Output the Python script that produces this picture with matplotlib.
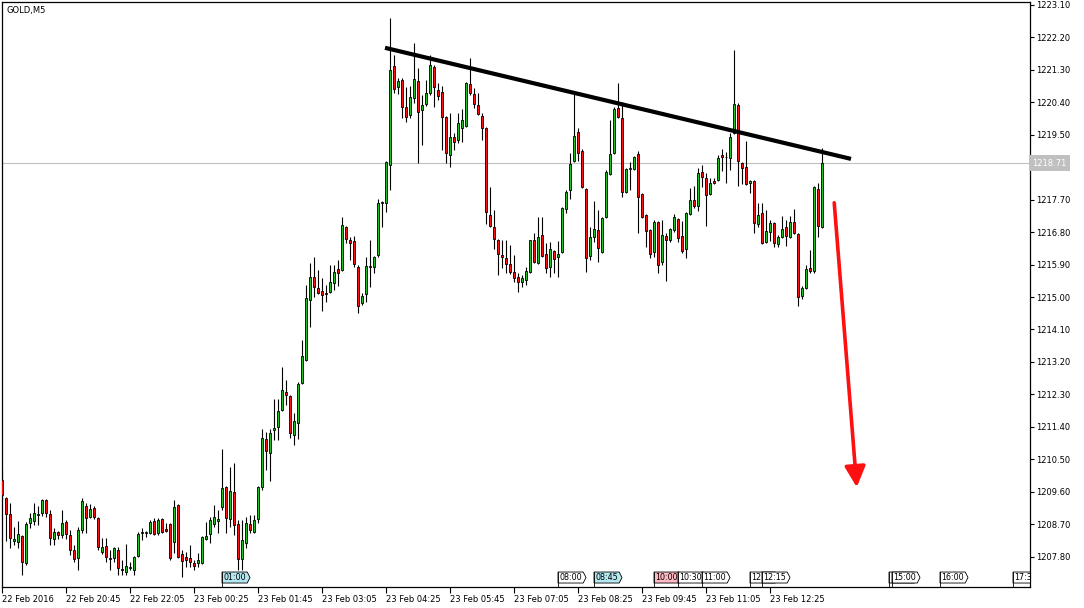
import numpy as np
import matplotlib
matplotlib.use("Agg")
import matplotlib.pyplot as plt
from matplotlib.patches import Polygon
from matplotlib.transforms import blended_transform_factory

# GOLD M5 candles, one per bar
opens = [
    1209.93, 1209.43, 1208.99, 1208.24, 1208.21, 1208.37, 1207.63, 1208.74, 1208.79, 1208.96,
    1209.01, 1209.37, 1208.99, 1208.29, 1208.49, 1208.40, 1208.76, 1208.40, 1207.99, 1207.76,
    1208.54, 1209.21, 1208.90, 1209.15, 1208.87, 1207.93, 1208.10, 1207.76, 1207.76, 1207.99,
    1207.46, 1207.38, 1207.49, 1207.43, 1207.82, 1208.46, 1208.47, 1208.46, 1208.79, 1208.46,
    1208.85, 1208.57, 1208.71, 1208.21, 1209.24, 1207.88, 1207.79, 1207.76, 1207.63, 1207.63,
    1207.63, 1208.29, 1208.43, 1208.71, 1208.79, 1209.18, 1209.73, 1208.85, 1209.60, 1208.71,
    1207.74, 1208.18, 1208.71, 1208.49, 1208.85, 1209.73, 1211.06, 1210.68, 1211.31, 1211.40,
    1211.87, 1212.37, 1212.26, 1211.18, 1211.51, 1212.62, 1213.26, 1214.92, 1215.56, 1215.25,
    1215.17, 1215.11, 1215.14, 1215.39, 1215.78, 1215.75, 1216.94, 1216.58, 1216.56, 1215.84,
    1214.84, 1215.09, 1215.86, 1215.84, 1216.17, 1217.61, 1217.61, 1218.66, 1221.41, 1220.83,
    1221.02, 1220.27, 1220.05, 1220.52, 1220.99, 1220.19, 1220.35, 1220.66, 1221.38, 1220.74,
    1220.69, 1219.99, 1218.94, 1219.44, 1219.36, 1219.69, 1219.75, 1220.91, 1220.63, 1220.33,
    1220.02, 1219.69, 1217.28, 1216.94, 1216.58, 1216.17, 1216.08, 1215.92, 1215.70, 1215.56,
    1215.42, 1215.47, 1215.70, 1216.58, 1215.95, 1216.72, 1216.20, 1215.84, 1216.28, 1216.11,
    1216.25, 1217.44, 1217.97, 1218.77, 1219.58, 1219.05, 1218.00, 1216.14, 1216.67, 1216.86,
    1216.25, 1217.22, 1218.41, 1218.99, 1220.24, 1219.97, 1217.92, 1218.56, 1218.55, 1218.97,
    1217.86, 1217.28, 1216.86, 1216.25, 1217.08, 1215.97, 1216.69, 1216.58, 1216.86, 1217.17,
    1216.69, 1216.33, 1217.30, 1217.69, 1217.53, 1218.47, 1218.30, 1217.86, 1218.22, 1218.25,
    1218.94, 1218.87, 1218.86, 1219.55, 1220.33, 1218.72, 1218.61, 1218.16, 1218.22, 1217.03,
    1217.33, 1216.53, 1216.81, 1217.05, 1216.47, 1216.67, 1216.94, 1216.67, 1217.08, 1216.75,
    1215.03, 1215.25, 1215.81, 1215.72, 1218.00, 1216.94,
]
highs = [
    1210.21, 1209.46, 1209.29, 1208.62, 1208.79, 1208.40, 1208.76, 1209.01, 1209.29, 1209.21,
    1209.40, 1209.40, 1209.10, 1208.60, 1208.52, 1209.10, 1208.82, 1208.54, 1208.13, 1208.62,
    1209.43, 1209.29, 1209.26, 1209.21, 1208.90, 1208.32, 1208.32, 1207.99, 1208.07, 1208.07,
    1207.71, 1208.15, 1207.65, 1207.82, 1208.49, 1208.60, 1208.52, 1208.82, 1208.87, 1208.87,
    1208.87, 1208.74, 1208.74, 1209.37, 1209.26, 1207.99, 1207.93, 1208.13, 1207.71, 1207.90,
    1208.38, 1208.76, 1208.90, 1209.24, 1209.10, 1210.79, 1209.76, 1210.29, 1210.40, 1208.82,
    1208.82, 1208.90, 1208.96, 1208.96, 1209.76, 1211.34, 1211.26, 1211.34, 1212.17, 1212.17,
    1213.06, 1212.70, 1212.29, 1211.79, 1212.65, 1213.81, 1215.34, 1215.95, 1216.11, 1215.75,
    1215.53, 1215.34, 1215.89, 1215.89, 1216.03, 1217.22, 1216.97, 1216.67, 1216.69, 1215.89,
    1215.11, 1216.11, 1216.58, 1216.14, 1217.72, 1217.66, 1218.78, 1222.74, 1221.71, 1221.08,
    1221.08, 1220.83, 1220.85, 1222.05, 1221.35, 1220.60, 1221.02, 1221.71, 1221.44, 1220.94,
    1220.85, 1220.02, 1220.10, 1219.55, 1220.10, 1220.22, 1220.97, 1221.63, 1220.80, 1220.66,
    1220.10, 1219.72, 1218.05, 1217.42, 1216.61, 1216.58, 1216.58, 1216.44, 1216.17, 1215.67,
    1215.61, 1215.84, 1216.58, 1216.78, 1217.22, 1217.22, 1216.50, 1216.53, 1216.31, 1216.56,
    1217.50, 1217.97, 1218.99, 1220.66, 1219.69, 1219.11, 1218.02, 1216.94, 1217.66, 1217.42,
    1217.22, 1218.53, 1219.91, 1220.27, 1220.94, 1220.41, 1218.58, 1218.75, 1218.91, 1219.05,
    1217.89, 1217.31, 1216.89, 1217.14, 1217.11, 1217.14, 1216.78, 1216.92, 1217.30, 1217.19,
    1217.11, 1217.36, 1218.02, 1218.08, 1218.58, 1218.66, 1218.44, 1218.30, 1218.30, 1218.94,
    1219.11, 1219.02, 1219.55, 1221.85, 1220.38, 1218.75, 1219.33, 1218.25, 1218.25, 1217.61,
    1217.61, 1217.42, 1217.14, 1217.08, 1216.72, 1217.25, 1217.14, 1217.25, 1217.44, 1216.78,
    1215.31, 1215.89, 1216.31, 1218.08, 1218.16, 1219.13,
]
lows = [
    1209.37, 1208.24, 1208.04, 1208.13, 1208.04, 1207.29, 1207.57, 1208.60, 1208.68, 1208.68,
    1208.93, 1208.90, 1208.13, 1208.13, 1208.29, 1208.32, 1208.29, 1207.85, 1207.65, 1207.43,
    1208.46, 1208.46, 1208.87, 1208.85, 1207.99, 1207.88, 1207.65, 1207.43, 1207.65, 1207.29,
    1207.29, 1207.29, 1207.43, 1207.29, 1207.79, 1208.26, 1208.35, 1208.43, 1208.40, 1208.40,
    1208.46, 1208.49, 1207.71, 1207.90, 1207.76, 1207.24, 1207.52, 1207.52, 1207.43, 1207.52,
    1207.60, 1208.26, 1208.18, 1208.62, 1208.46, 1209.10, 1208.46, 1208.62, 1208.40, 1207.43,
    1207.43, 1208.04, 1208.46, 1208.46, 1208.74, 1209.65, 1210.21, 1209.90, 1211.04, 1211.04,
    1211.84, 1212.01, 1211.09, 1210.90, 1211.06, 1212.59, 1213.23, 1214.17, 1215.00, 1215.09,
    1214.61, 1214.86, 1215.11, 1215.20, 1215.31, 1215.72, 1216.50, 1216.03, 1215.84, 1214.56,
    1214.78, 1214.86, 1215.28, 1215.67, 1216.11, 1216.94, 1217.36, 1217.97, 1220.66, 1220.63,
    1219.97, 1219.86, 1219.97, 1220.38, 1218.72, 1219.22, 1220.30, 1220.60, 1220.27, 1220.47,
    1219.08, 1218.72, 1218.61, 1219.08, 1219.27, 1219.30, 1219.72, 1220.60, 1220.24, 1220.05,
    1219.36, 1217.03, 1216.94, 1216.33, 1215.61, 1215.81, 1215.67, 1215.64, 1215.42, 1215.14,
    1215.28, 1215.34, 1215.67, 1215.95, 1215.92, 1216.11, 1215.67, 1215.56, 1215.67, 1215.56,
    1216.22, 1217.33, 1217.72, 1218.75, 1218.77, 1218.02, 1215.70, 1216.03, 1216.53, 1215.97,
    1216.22, 1217.19, 1218.39, 1218.97, 1219.97, 1217.78, 1217.89, 1217.97, 1218.53, 1216.78,
    1217.19, 1216.39, 1216.08, 1216.11, 1215.67, 1215.89, 1215.45, 1216.53, 1216.81, 1216.53,
    1216.22, 1216.08, 1217.28, 1217.47, 1217.39, 1218.05, 1216.97, 1217.83, 1218.14, 1218.22,
    1218.50, 1218.16, 1218.53, 1219.52, 1218.08, 1218.14, 1218.11, 1217.89, 1216.78, 1216.94,
    1216.47, 1216.50, 1216.56, 1216.39, 1216.39, 1216.64, 1216.42, 1216.64, 1216.75, 1214.75,
    1214.95, 1215.22, 1215.67, 1215.67, 1216.67, 1216.92,
]
closes = [
    1209.51, 1208.99, 1208.32, 1208.29, 1208.43, 1207.65, 1208.71, 1208.87, 1209.01, 1208.99,
    1209.37, 1209.01, 1208.32, 1208.49, 1208.40, 1208.74, 1208.43, 1207.99, 1207.74, 1208.54,
    1209.35, 1208.87, 1209.12, 1208.90, 1208.07, 1208.07, 1207.79, 1207.74, 1208.04, 1207.49,
    1207.42, 1207.54, 1207.52, 1207.79, 1208.43, 1208.49, 1208.49, 1208.76, 1208.43, 1208.82,
    1208.49, 1208.51, 1207.76, 1209.18, 1207.79, 1207.68, 1207.71, 1207.65, 1207.54, 1207.71,
    1208.35, 1208.37, 1208.82, 1208.90, 1208.85, 1209.71, 1208.87, 1209.62, 1208.68, 1207.74,
    1208.26, 1208.74, 1208.54, 1208.82, 1209.73, 1211.09, 1210.73, 1211.23, 1211.37, 1211.84,
    1212.42, 1212.29, 1211.23, 1211.56, 1212.59, 1213.37, 1214.98, 1215.56, 1215.28, 1215.11,
    1215.06, 1215.09, 1215.42, 1215.70, 1215.67, 1217.00, 1216.61, 1216.50, 1215.92, 1214.75,
    1215.03, 1215.86, 1215.84, 1216.11, 1217.61, 1217.63, 1218.75, 1221.30, 1220.77, 1220.99,
    1220.27, 1219.99, 1220.55, 1221.05, 1220.13, 1220.33, 1220.66, 1221.44, 1220.83, 1220.58,
    1219.99, 1218.99, 1219.44, 1219.30, 1219.83, 1219.91, 1220.94, 1220.66, 1220.35, 1220.08,
    1219.69, 1217.36, 1216.97, 1216.61, 1216.20, 1216.11, 1215.92, 1215.70, 1215.53, 1215.42,
    1215.53, 1215.72, 1216.58, 1215.97, 1216.67, 1216.14, 1215.81, 1216.33, 1216.06, 1216.20,
    1217.47, 1217.92, 1218.69, 1219.47, 1218.99, 1218.05, 1216.08, 1216.67, 1216.89, 1216.36,
    1217.19, 1218.47, 1218.97, 1220.22, 1219.99, 1217.92, 1218.55, 1218.58, 1218.88, 1217.78,
    1217.22, 1216.83, 1216.20, 1217.08, 1215.89, 1216.72, 1216.58, 1216.89, 1217.22, 1216.64,
    1216.28, 1217.33, 1217.69, 1217.53, 1218.44, 1218.33, 1217.83, 1218.16, 1218.16, 1218.86,
    1218.88, 1218.89, 1219.44, 1220.35, 1218.77, 1218.58, 1218.14, 1218.22, 1217.05, 1217.28,
    1216.50, 1216.83, 1217.05, 1216.50, 1216.67, 1216.89, 1216.69, 1217.08, 1216.78, 1215.00,
    1215.25, 1215.78, 1215.72, 1218.05, 1216.97, 1218.71,
]

# time axis: one label every 16 bars
time_tick_bars = [0, 16, 32, 48, 64, 80, 96, 112, 128, 144, 160, 176, 192]
time_labels = ["22 Feb 2016", "22 Feb 20:45", "22 Feb 22:05", "23 Feb 00:25",
               "23 Feb 01:45", "23 Feb 03:05", "23 Feb 04:25", "23 Feb 05:45",
               "23 Feb 07:05", "23 Feb 08:25", "23 Feb 09:45", "23 Feb 11:05",
               "23 Feb 12:25"]
price_ticks = [1207.80, 1208.70, 1209.60, 1210.50, 1211.40, 1212.30, 1213.20,
               1214.10, 1215.00, 1215.90, 1216.80, 1217.70, 1218.60, 1219.50,
               1220.40, 1221.30, 1222.20, 1223.10]

# calendar events at the bottom (bar position, visible label, kind);
# flags that sit under the next one only show their first characters
event_bars = [55, 139, 148, 163, 169, 175, 187, 190, 221.75, 222.5, 234.5, 252.75]
event_labels = ["01:00", "08:00", "08:45", "10:00", "10:30", "11:00", "12",
                "12:15", "", "15:00", "16:00", "17:30"]
event_kind = ["low", "none", "low", "high", "none", "none", "none",
              "none", "none", "none", "none", "none"]

# drawn lines: resistance line and expected move
trend_bars = [95.75, 212.25]
trend_prices = [1221.91, 1218.83]
arrow_bars = [208, 213.75]
arrow_prices = [1217.69, 1209.65]

GREEN = "#22c022"
RED = "#ff1010"
kind_colors = {"low": "#b4e8f0", "high": "#ffb8c4", "none": "white"}

fig = plt.figure(figsize=(10.84, 6.08), dpi=100)
ax = fig.add_axes([2 / 1084, 21 / 608, 1028 / 1084, 585 / 608])

x = np.arange(len(opens))
o = np.array(opens)
c = np.array(closes)
colors = [GREEN if cc > oo else (RED if cc < oo else "black") for oo, cc in zip(o, c)]

ax.vlines(x, lows, highs, color="black", linewidth=0.8, zorder=2)
ax.bar(x, np.abs(c - o), bottom=np.minimum(o, c), width=0.74, color=colors,
       edgecolor="black", linewidth=0.6, zorder=3)

# last price line
last = closes[-1]
ax.axhline(last, color="#c0c0c0", linewidth=0.8, zorder=1)

ax.plot(trend_bars, trend_prices, color="black", linewidth=3, solid_capstyle="butt", zorder=5)
ax.annotate("", xy=(arrow_bars[1], arrow_prices[1]), xytext=(arrow_bars[0], arrow_prices[0]),
            arrowprops=dict(arrowstyle="-|>,head_length=0.9,head_width=0.45",
                            color="#ff1010", lw=2.6, mutation_scale=14), zorder=5)

ax.set_xlim(0, 257)
ax.set_ylim(1206.96, 1223.18)

ax.set_xticks(time_tick_bars)
ax.set_xticklabels(time_labels, ha="left")
ax.yaxis.tick_right()
ax.set_yticks(price_ticks)
ax.set_yticklabels([f"{p:.2f}" for p in price_ticks])
ax.tick_params(axis="x", direction="out", length=4, width=0.8, pad=1.5, labelsize=6)
ax.tick_params(axis="y", direction="out", length=3, width=0.8, pad=1.5, labelsize=6)
for s in ax.spines.values():
    s.set_linewidth(0.9)
    s.set_color("black")

# event flags along the time axis
trans = blended_transform_factory(ax.transData, ax.transAxes)
yb, yt = 0.0068, 0.0256
for k, (bx, lab, kind) in enumerate(zip(event_bars, event_labels, event_kind)):
    pts = [(bx, yb), (bx, yt), (bx + 6.3, yt), (bx + 7.0, (yb + yt) / 2), (bx + 6.3, yb)]
    poly = Polygon(pts, closed=True, facecolor=kind_colors[kind], edgecolor="black",
                   linewidth=0.6, transform=trans, zorder=10 + 2 * k, clip_on=True)
    ax.add_patch(poly)
    ax.plot([bx, bx], [0, yt], color="black", linewidth=0.6, transform=trans,
            zorder=10 + 2 * k, clip_on=True)
    if lab:
        ax.text(bx + 0.35, (yb + yt) / 2, lab, transform=trans, fontsize=5.8,
                va="center", ha="left", zorder=11 + 2 * k, clip_on=True)

ax.text(0.004, 0.993, "GOLD,M5", transform=ax.transAxes, fontsize=6, va="top", ha="left")
ax.text(1.002, last, f"{last:.2f}", transform=ax.get_yaxis_transform(), fontsize=6,
        color="white", va="center", ha="left", zorder=20, clip_on=False,
        bbox=dict(boxstyle="square,pad=0.4", fc="#c0c0c0", ec="none"))

fig.savefig("out.png", dpi=100, facecolor="white")
